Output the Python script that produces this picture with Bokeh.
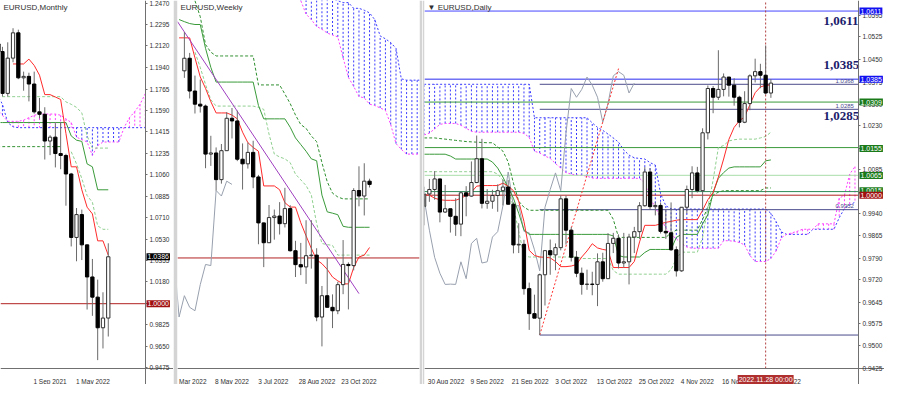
import numpy as np
from bokeh.plotting import figure
from bokeh.layouts import row
from bokeh.models import Range1d, FixedTicker, NumeralTickFormatter, Label
from bokeh.core.properties import value
from bokeh.embed import file_html
from bokeh.resources import INLINE

FONT = "Liberation Sans"

# ------------------------------------------------------------------ MONTHLY
# bar index: 0 = Mar 2021 ... 20 = Nov 2022
m_idx = list(range(-1, 21))
m_open = [1.2136, 1.2074, 1.1730, 1.2020, 1.2228, 1.1858, 1.1870, 1.1807, 1.1578, 1.1558, 1.1338,
          1.1370, 1.1235, 1.1219, 1.1067, 1.0545, 1.0733, 1.0484, 1.0220, 1.0054, 0.9802, 0.9882]
m_high = [1.2243, 1.2113, 1.2150, 1.2266, 1.2254, 1.1909, 1.1900, 1.1909, 1.1692, 1.1616, 1.1386,
          1.1483, 1.1495, 1.1233, 1.1076, 1.0787, 1.0774, 1.0486, 1.0368, 1.0198, 1.0094, 1.0497]
m_low = [1.1952, 1.1704, 1.1704, 1.1986, 1.1847, 1.1752, 1.1664, 1.1563, 1.1524, 1.1186, 1.1222,
         1.1121, 1.1106, 1.0806, 1.0471, 1.0349, 1.0359, 0.9952, 0.9900, 0.9536, 0.9632, 0.9730]
m_close = [1.2074, 1.1730, 1.2020, 1.2228, 1.1858, 1.1870, 1.1807, 1.1578, 1.1558, 1.1338, 1.1370,
           1.1235, 1.1219, 1.1067, 1.0545, 1.0733, 1.0484, 1.0220, 1.0054, 0.9802, 0.9882, 1.0386]
m_tenkan_idx = list(range(2, 21))
m_tenkan = [1.1972, 1.1972, 1.1972, 1.2012, 1.1960, 1.1880, 1.1720, 1.1720, 1.1700, 1.1680, 1.1400,
            1.1126, 1.1126, 1.0937, 1.0794, 1.0739, 1.0517, 1.0517, 1.0399]
m_kijun = [1.149] * 14 + [1.138, 1.1345, 1.1335, 1.115, 1.1126, 1.0937, 1.0937, 1.0937]
m_dash_dark_idx = list(range(-1, 12))
m_dash_dark = [1.1292] * 13
m_dash_pale1 = [1.1703] * 13 + [1.166, 1.164, 1.1615, 1.157, 1.138, 1.128, 1.128, 1.128, 1.128]
m_dash_pale2_idx = list(range(13, 21))
m_dash_pale2 = [1.125, 1.1150, 1.1030, 1.0890, 1.0834, 1.0640, 1.0612, 1.0612]
m_cloud_idx = list(range(-1, 28))
m_span_b = [1.172, 1.164, 1.149, 1.1455] + [1.1448] * 25
m_span_a = [1.160, 1.155, 1.150, 1.150, 1.150, 1.151, 1.153, 1.155, 1.156, 1.156, 1.156, 1.156, 1.155,
            1.152, 1.149, 1.137, 1.135, 1.133, 1.122, 1.130, 1.133, 1.133, 1.133, 1.133, 1.145, 1.153,
            1.158, 1.164, 1.1727]
m_yticks = [1.2470, 1.2295, 1.2120, 1.1940, 1.1765, 1.1590, 1.1415, 1.1235, 1.1060, 1.0885, 1.0710,
            1.0530, 1.0355, 1.0180, 1.0005, 0.9825, 0.9650, 0.9475]
m_xtick_pos = [9.0, 17.1]
m_xtick_lab = ["1 Sep 2021", "1 May 2022"]
m_last = 1.0386
m_level = 1.0000

# ------------------------------------------------------------------ WEEKLY
# bar index: 0 = week of 23 Oct 2022
w_idx = list(range(-30, 6))
w_open = [1.0982, 1.1048, 1.0876, 1.0807, 1.0797, 1.0545, 1.0551, 1.0411, 1.0563, 1.0733, 1.0719, 1.0518,
          1.0494, 1.0554, 1.0425, 1.0184, 1.0080, 1.0212, 1.0220, 1.0180, 1.0259, 1.0038, 0.9965, 0.9953,
          1.0012, 1.0015, 0.9690, 0.9802, 0.9741, 0.9723, 0.9860, 0.9966, 0.9960, 1.0354, 1.0325, 1.0403]
w_high = [1.1185, 1.1076, 1.0957, 1.0936, 1.0805, 1.0641, 1.0580, 1.0598, 1.0765, 1.0787, 1.0773, 1.0601,
          1.0606, 1.0615, 1.0436, 1.0186, 1.0278, 1.0254, 1.0293, 1.0368, 1.0277, 1.0090, 1.0079, 1.0198,
          1.0198, 1.0051, 0.9853, 0.9999, 0.9809, 0.9875, 1.0094, 0.9977, 1.0366, 1.0481, 1.0497, 1.0416]
w_low = [1.0945, 1.0837, 1.0758, 1.0763, 1.0471, 1.0483, 1.0354, 1.0390, 1.0563, 1.0627, 1.0508, 1.0359,
         1.0469, 1.0366, 1.0072, 0.9952, 1.0079, 1.0096, 1.0123, 1.0160, 1.0033, 0.9900, 0.9910, 0.9864,
         0.9944, 0.9668, 0.9536, 0.9740, 0.9632, 0.9705, 0.9810, 0.9730, 0.9935, 1.0271, 1.0223, 1.0370]
w_close = [1.1048, 1.0876, 1.0807, 1.0797, 1.0545, 1.0551, 1.0411, 1.0563, 1.0733, 1.0719, 1.0518, 1.0494,
           1.0554, 1.0425, 1.0184, 1.0080, 1.0212, 1.0220, 1.0180, 1.0259, 1.0038, 0.9965, 0.9953, 1.0012,
           1.0015, 0.9690, 0.9802, 0.9741, 0.9723, 0.9860, 0.9966, 0.9960, 1.0354, 1.0325, 1.0403, 1.0386]
w_line_idx = list(range(-31, 6))
w_tenkan = [1.1155, 1.1155, 1.1155, 1.105, 1.095, 1.089, 1.082, 1.0761, 1.0761, 1.0761, 1.075, 1.073,
            1.066, 1.0605, 1.058, 1.056, 1.0378, 1.0378, 1.0378, 1.0358, 1.029, 1.0267, 1.0267, 1.0185,
            1.0116, 1.005, 0.999, 0.997, 0.994, 0.990, 0.988, 0.9864, 0.9864, 0.995, 1.0005, 1.0015, 1.0055]
w_kijun = ([1.1251, 1.1240, 1.1230, 1.1225, 1.1225, 1.110, 1.100] + [1.0923] * 8 + [1.080] + [1.073] * 5 +
           [1.0686, 1.063, 1.0595, 1.056, 1.052, 1.051, 1.033, 1.0242, 1.0235, 1.0227, 1.0166] + [1.0161] * 5)
w_dash_idx = list(range(-28, 6))
w_dash_dark = ([1.135, 1.1266, 1.112, 1.108] + [1.106] * 8 + [1.0908] * 5 +
               [1.086, 1.081, 1.075, 1.070, 1.068, 1.064, 1.061, 1.050, 1.040, 1.034, 1.032] + [1.031] * 6)
w_dash_pale = ([1.108, 1.100, 1.091, 1.083] + [1.0797] * 8 + [1.079, 1.078, 1.065, 1.0545, 1.053, 1.052,
               1.050, 1.044, 1.041, 1.038, 1.033, 1.018, 1.0076, 1.0070, 1.0066, 1.0015] + [1.0015] * 6)
w_cloud_idx = list(range(-9, 16))
w_span_b = [1.150, 1.140, 1.138, 1.137, 1.136, 1.136, 1.136, 1.136, 1.135, 1.134, 1.134, 1.131, 1.131,
            1.130, 1.1286, 1.125, 1.1165, 1.115, 1.113, 1.110, 1.094, 1.0933, 1.0933, 1.0933, 1.0933]
w_span_a = [1.145, 1.135, 1.128, 1.125, 1.1215, 1.120, 1.118, 1.117, 1.116, 1.105, 1.0948, 1.0900, 1.0847,
            1.0840, 1.0807, 1.0800, 1.0787, 1.0775, 1.070, 1.060, 1.057, 1.0545, 1.0545, 1.0545, 1.0545]
w_trend_idx = [-31.3, 3.0]
w_trend = [1.124, 0.9813]
w_xtick_pos = [-28.4, -21.0, -13.2, -4.9, 3.0]
w_xtick_lab = ["Mar 2022", "8 May 2022", "3 Jul 2022", "28 Aug 2022", "23 Oct 2022"]
w_level = 1.0000

# ------------------------------------------------------------------ DAILY
# bar index: 0 = 30 Aug 2022 (trading days)
d_idx = list(range(-1, 66))
d_open = [0.9963, 1.0004, 1.0019, 1.0054, 0.9944, 0.9955, 0.9930, 0.9904, 1.0008, 0.9997, 1.0042, 1.0121,
          0.9973, 0.9980, 0.9999, 1.0015, 1.0027, 0.9970, 0.9835, 0.9837, 0.9690, 0.9607, 0.9592, 0.9736,
          0.9816, 0.9802, 0.9826, 0.9988, 0.9884, 0.9794, 0.9741, 0.9704, 0.9705, 0.9704, 0.9779, 0.9723,
          0.9840, 0.9857, 0.9775, 0.9779, 0.9861, 0.9879, 0.9965, 1.0077, 0.9962, 0.9966, 0.9880, 0.9875,
          0.9819, 0.9749, 0.9960, 1.0019, 1.0074, 1.0015, 1.0207, 1.0354, 1.0325, 1.0351, 1.0392, 1.0365,
          1.0325, 1.0242, 1.0304, 1.0396, 1.0410, 1.0398, 1.0339]
d_high = [1.0028, 1.0054, 1.0080, 1.0055, 1.0034, 0.9955, 0.9990, 1.0012, 1.0030, 1.0112, 1.0198, 1.0187,
          1.0020, 1.0018, 1.0036, 1.0051, 1.0050, 0.9976, 0.9907, 0.9852, 0.9710, 0.9670, 0.9740, 0.9815,
          0.9853, 0.9840, 0.9999, 0.9999, 0.9894, 0.9815, 0.9760, 0.9753, 0.9746, 0.9807, 0.9809, 0.9874,
          0.9875, 0.9870, 0.9875, 0.9872, 0.9895, 0.9977, 1.0093, 1.0090, 0.9977, 0.9976, 0.9954, 0.9976,
          0.9830, 0.9960, 1.0032, 1.0096, 1.0094, 1.0222, 1.0364, 1.0362, 1.0481, 1.0404, 1.0392, 1.0388,
          1.0330, 1.0345, 1.0401, 1.0453, 1.0436, 1.0497, 1.0385]
d_low = [0.9900, 0.9978, 0.9985, 0.9910, 0.9941, 0.9876, 0.9865, 0.9864, 0.9930, 0.9995, 1.0040, 0.9956,
         0.9955, 0.9955, 0.9945, 0.9966, 0.9970, 0.9807, 0.9808, 0.9670, 0.9553, 0.9593, 0.9536, 0.9634,
         0.9736, 0.9751, 0.9817, 0.9836, 0.9780, 0.9728, 0.9670, 0.9686, 0.9668, 0.9632, 0.9713, 0.9723,
         0.9808, 0.9757, 0.9760, 0.9704, 0.9808, 0.9855, 0.9962, 0.9952, 0.9933, 0.9873, 0.9855, 0.9815,
         0.9730, 0.9746, 0.9939, 0.9990, 1.0009, 0.9947, 1.0185, 1.0272, 1.0316, 1.0328, 1.0327, 1.0297,
         1.0225, 1.0239, 1.0282, 1.0374, 1.0355, 1.0334, 1.0323]
d_close = [1.0004, 1.0019, 1.0054, 0.9944, 0.9955, 0.9930, 0.9904, 1.0008, 0.9997, 1.0042, 1.0121, 0.9973,
           0.9980, 0.9999, 1.0015, 1.0027, 0.9970, 0.9835, 0.9837, 0.9690, 0.9607, 0.9592, 0.9736, 0.9816,
           0.9802, 0.9826, 0.9988, 0.9884, 0.9794, 0.9741, 0.9704, 0.9705, 0.9704, 0.9779, 0.9723, 0.9840,
           0.9857, 0.9775, 0.9779, 0.9861, 0.9879, 0.9965, 1.0077, 0.9962, 0.9966, 0.9880, 0.9875, 0.9819,
           0.9749, 0.9960, 1.0019, 1.0074, 1.0015, 1.0207, 1.0354, 1.0325, 1.0351, 1.0392, 1.0365, 1.0325,
           1.0242, 1.0304, 1.0396, 1.0410, 1.0398, 1.0339, 1.0372]
d_tenkan = [1.0002, 1.0000, 0.9990, 0.9985, 0.9983, 0.9983, 0.9983, 0.9990, 0.9999, 1.0010, 1.0030, 1.0032,
            1.0032, 1.0032, 1.0032, 1.0040, 1.0030, 1.0015, 0.9980, 0.9913, 0.9817, 0.9800, 0.9795, 0.9794,
            0.9792, 0.9780, 0.9763, 0.9763, 0.9765, 0.9770, 0.9795, 0.9815, 0.9839, 0.9825, 0.9820, 0.9817,
            0.9760, 0.9760, 0.9760, 0.9760, 0.9780, 0.9845, 0.9900, 0.9900, 0.9900, 0.9905, 0.9910, 0.9913,
            0.9917, 0.9919, 0.9919, 0.9919, 0.9919, 0.9950, 0.9985, 1.0009, 1.0060, 1.0120, 1.0185, 1.0225,
            1.0247, 1.0260, 1.0300, 1.0340, 1.0359, 1.0365, 1.0365]
d_kijun = ([1.0136] * 5 + [1.0130] + [1.0120] * 7 + [1.0110, 1.0090, 1.0060, 1.0025, 0.9990, 0.9940, 0.9885] +
           [0.9870] * 16 + [0.9865, 0.9800] + [0.9795] * 4 + [0.9810] + [0.9820] * 5 + [0.9860] +
           [0.9870] * 4 + [0.9905, 0.9935, 1.0008, 1.0056, 1.0075, 1.0090] + [1.0094] * 6 + [1.0114, 1.0117])
d_dash_dark = ([1.0190, 1.0190, 1.0190, 1.0188, 1.0186, 1.0184, 1.0182, 1.0180, 1.0178, 1.0177, 1.0176,
                1.0175, 1.0174, 1.0174] + [1.0160, 1.0146, 1.0110, 1.0040, 0.9980, 0.9960, 0.9950] +
               [0.9950] * 15 + [0.9920, 0.9860] + [0.9860] * 9 + [0.9875] + [0.9884] * 5 +
               [0.9920, 0.9960, 1.0000, 1.0010] + [1.0015] * 8 + [1.0024, 1.0024])
d_dash_pale = ([1.0078] * 14 + [1.0070, 1.0050, 1.0020, 0.9960, 0.9880, 0.9800] + [0.9795] * 10 +
               [0.9790] * 6 + [0.9750] + [0.9738] * 10 + [0.9753, 0.9790] + [0.9811] * 4 +
               [0.9860, 0.9960, 1.0050, 1.0158, 1.0165, 1.0180, 1.0184] + [1.0186] * 4 + [1.0190, 1.0195, 1.0209])
d_cloud_idx = list(range(-1, 82))
d_span_b = ([1.0368] * 21 + [1.0257] * 11 + [1.0240, 1.0225, 1.0215, 1.0203, 1.0190, 1.0176, 1.0150, 1.0133,
            1.0124, 1.0122, 1.0120, 1.0108, 1.0100, 1.0005, 0.9965, 0.9955] + [0.9954] * 18 +
            [0.9940, 0.9912, 0.9878] + [0.9870] * 5 + [0.9887] * 5 + [0.9925, 0.9956, 0.9967, 0.9977])
d_span_a = ([1.0200, 1.0206, 1.0220, 1.0235, 1.0238, 1.0238, 1.0238, 1.0232, 1.0222, 1.0212] + [1.0209] * 9 +
            [1.0205, 1.0192, 1.0146, 1.0140, 1.0130, 1.0122, 1.0105, 1.0090, 1.0075, 1.0070, 1.0067, 1.0066,
             1.0063, 1.0057] + [1.0056] * 9 + [1.0040, 0.9990, 0.9960, 0.9925, 0.9891, 0.9870, 0.9855, 0.9840,
            0.9828] + [0.9824] * 6 + [0.9849, 0.9849, 0.9847, 0.9843, 0.9835, 0.9800] + [0.9780] * 3 +
            [0.9790, 0.9815, 0.9859, 0.9870, 0.9875, 0.9880] + [0.9887] * 3 + [0.9905] * 4 +
            [0.9990, 1.0000, 1.0070, 1.0095])
d_trend_idx = [21, 36]
d_trend = [0.9536, 1.0420]
d_full_levels = [1.0611, 1.0385, 1.0309, 1.0158, 1.0066, 1.0012, 1.0000]
d_full_colors = ["#4646ff", "#2a2af0", "#3a9a3a", "#3a9a3a", "#a8dca8", "#2e8b57", "#b22222"]
d_navy_start = 21
d_navy_levels = [1.0368, 1.0285, 0.9952, 0.9536]
d_small_lab = ["1.0368", "1.0285", "0.9952"]
d_small_lab_y = [1.0372, 1.0289, 0.9956]
d_big_lab = ["1,0611", "1,0385", "1,0285"]
d_big_lab_y = [1.0579, 1.0432, 1.0264]
d_big_lab_x = 75.0
d_boxes = ["1.0611", "1.0385", "1.0309", "1.0015", "1.0155", "1.0065", "1.0000"]
d_boxes_y = [1.0611, 1.0385, 1.0309, 1.0015, 1.0155, 1.0065, 1.0000]
d_boxes_c = ["#1010f0", "#1010f0", "#1a7a1a", "#1a7a1a", "#1a7a1a", "#1a7a1a", "#a01010"]
d_cursor = 64
d_cursor_text = "2022.11.28 00:00"
d_yticks = [1.0595, 1.0525, 1.0450, 1.0375, 1.0300, 1.0230, 1.0155, 1.0085, 1.0010, 0.9940, 0.9865, 0.9790,
            0.9720, 0.9645, 0.9575, 0.9500, 0.9425]
d_xtick_pos = [3.2, 11.0, 19.2, 27.0, 35.2, 43.2, 51.0, 59.2, 67.2]
d_xtick_lab = ["30 Aug 2022", "9 Sep 2022", "21 Sep 2022", "3 Oct 2022", "13 Oct 2022", "25 Oct 2022",
               "4 Nov 2022", "16 Nov 2022", "28 Nov 2022"]
CHIKOU_SHIFT = 26

# ------------------------------------------------------------------ styling
RED = "#ff2a2a"
KIJUN = "#3a9a3a"
DDARK = "#2f8f2f"
DPALE = "#8fcf8f"
CHIK = "#98a0ae"
BLUE = "#3a3aff"
MAG = "#ff40ff"
LEVEL = "#b22222"
FH = 384          # frame height incl. the date strip
STRIP = 16        # date strip height in px
PLOT_H = FH - STRIP


def make_fig(fw, xr, yr, y_axis_at, left_border, right_border):
    """Frame covers the whole panel; axes are pinned inside it with fixed_location."""
    ppu = PLOT_H / (yr[1] - yr[0])
    y0 = yr[0] - STRIP / ppu
    p = figure(frame_width=fw, frame_height=FH, x_range=Range1d(*xr), y_range=Range1d(y0, yr[1]),
               output_backend="svg", toolbar_location=None,
               y_axis_location="right" if y_axis_at is not None else None,
               min_border_left=left_border, min_border_right=right_border,
               min_border_top=0, min_border_bottom=0)
    p.grid.grid_line_color = None
    p.background_fill_color = "white"
    p.border_fill_color = "#d4d4d4"
    p.outline_line_color = None
    p.xaxis[0].fixed_location = yr[0]
    if y_axis_at is not None:
        p.yaxis[0].fixed_location = y_axis_at
    return p


def style_x(p, pos, lab):
    ax = p.xaxis[0]
    ax.ticker = FixedTicker(ticks=pos)
    ax.major_label_overrides = dict(zip(pos, lab))
    ax.major_tick_line_color = None
    ax.minor_tick_line_color = None
    ax.axis_line_color = "#707070"
    ax.major_label_text_font_size = "6.5px"
    ax.major_label_text_font = FONT
    ax.major_label_text_color = "#303030"
    ax.major_label_standoff = 3


def style_y(p, ticks):
    ax = p.yaxis[0]
    ax.ticker = FixedTicker(ticks=ticks)
    ax.formatter = NumeralTickFormatter(format="0.0000")
    ax.minor_tick_line_color = None
    ax.major_tick_in = 0
    ax.major_tick_out = 2
    ax.major_tick_line_color = "#707070"
    ax.axis_line_color = "#707070"
    ax.major_label_text_font_size = "6.5px"
    ax.major_label_text_font = FONT
    ax.major_label_text_color = "#303030"
    ax.major_label_standoff = 2


def candles(p, x, o, h, l, c, w=0.62):
    x, o, h, l, c = map(np.asarray, (x, o, h, l, c))
    p.segment(x, h, x, l, line_color="#6a6a6a", line_width=1)
    up = c >= o
    p.vbar(x[up], w, o[up], c[up], fill_color="white", line_color="#303030", line_width=1)
    p.vbar(x[~up], w, o[~up], c[~up], fill_color="black", line_color="black", line_width=1)


def cloud(p, x, a, b):
    x, a, b = map(np.asarray, (x, a, b))
    bu = b >= a
    p.segment(x[bu], a[bu], x[bu], b[bu], line_color=BLUE, line_dash="2 2", line_width=1)
    p.segment(x[~bu], a[~bu], x[~bu], b[~bu], line_color=MAG, line_dash="2 2", line_width=1)
    p.line(x, b, line_color=BLUE, line_dash="2 2", line_width=1)
    p.line(x, a, line_color=MAG, line_dash="2 2", line_width=1)


def hlines(p, x0, x1, levels, colors):
    n = len(levels)
    p.segment([x0] * n, levels, [x1] * n, levels, line_color=colors, line_width=1)


def title(p, text):
    p.add_layout(Label(x=3, y=FH - 2, x_units="screen", y_units="screen", text=text,
                       text_font=FONT, text_font_size="8px", text_color="#303030", text_baseline="top"))


def box(p, xloc, y, text, color):
    p.add_layout(Label(x=xloc, y=y, x_offset=1, text=text,
                       text_font=FONT, text_font_size="7px", text_color="white", text_baseline="middle",
                       background_fill_color=color, padding=1))


# ------------------------------------------------------------------ monthly figure
M_XR = (-0.37, 27.04)
pm = make_fig(173, (M_XR[0], 32.33), (0.9467, 1.2494), M_XR[1], 0, 0)
cloud(pm, m_cloud_idx, m_span_a, m_span_b)
hlines(pm, M_XR[0], M_XR[1], [m_level], [LEVEL])
pm.line(m_dash_dark_idx, m_dash_dark, line_color=DDARK, line_dash="3 2")
pm.line(m_idx, m_dash_pale1, line_color=DPALE, line_dash="3 2")
pm.line(m_dash_pale2_idx, m_dash_pale2, line_color=DPALE, line_dash="3 2")
pm.line(m_idx, m_kijun, line_color=KIJUN, line_width=1)
pm.line(m_tenkan_idx, m_tenkan, line_color=RED, line_width=1)
candles(pm, m_idx, m_open, m_high, m_low, m_close)
style_x(pm, m_xtick_pos, m_xtick_lab)
style_y(pm, m_yticks)
title(pm, "EURUSD,Monthly")
box(pm, M_XR[1], m_last, "1.0386", "#000000")
box(pm, M_XR[1], m_level, "1.0000", "#a01010")

# ------------------------------------------------------------------ weekly figure
W_XR = (-31.3, 14.44)
pw = make_fig(242, W_XR, (0.9420, 1.1351), None, 4, 3)
cloud(pw, w_cloud_idx, w_span_a, w_span_b)
hlines(pw, W_XR[0], W_XR[1], [w_level], [LEVEL])
pw.line(np.array(w_idx) - CHIKOU_SHIFT, w_close, line_color=CHIK, line_width=1)
pw.line(w_dash_idx, w_dash_dark, line_color=DDARK, line_dash="3 2")
pw.line(w_dash_idx, w_dash_pale, line_color=DPALE, line_dash="3 2")
pw.line(w_line_idx, w_kijun, line_color=KIJUN, line_width=1)
pw.line(w_line_idx, w_tenkan, line_color=RED, line_width=1)
pw.line(w_trend_idx, w_trend, line_color="#a040c0", line_width=1)
candles(pw, w_idx, w_open, w_high, w_low, w_close)
style_x(pw, w_xtick_pos, w_xtick_lab)
title(pw, "EURUSD,Weekly")

# ------------------------------------------------------------------ daily figure
D_XR = (-0.93, 81.67)
pd = make_fig(460, (D_XR[0], 86.62), (0.9425, 1.0646), D_XR[1], 2, 0)
cloud(pd, d_cloud_idx, d_span_a, d_span_b)
hlines(pd, D_XR[0], D_XR[1], d_full_levels, d_full_colors)
hlines(pd, d_navy_start, D_XR[1], d_navy_levels, ["#4a4a8c"] * len(d_navy_levels))
pd.line(np.array(d_idx) - CHIKOU_SHIFT, d_close, line_color=CHIK, line_width=1)
pd.line(d_idx, d_dash_dark, line_color=DDARK, line_dash="3 2")
pd.line(d_idx, d_dash_pale, line_color=DPALE, line_dash="3 2")
pd.line(d_idx, d_kijun, line_color=KIJUN, line_width=1)
pd.line(d_idx, d_tenkan, line_color=RED, line_width=1)
pd.line(d_trend_idx, d_trend, line_color="#ff3030", line_dash="2 2", line_width=1)
pd.segment([d_cursor], [0.9425], [d_cursor], [1.0646], line_color="#b04040", line_dash="2 2", line_width=1)
candles(pd, d_idx, d_open, d_high, d_low, d_close)
pd.text([d_big_lab_x] * 3, d_big_lab_y, text=d_big_lab, text_font=value("Liberation Serif"),
        text_font_style="bold", text_font_size="13px", text_color="#1c1c6b", text_baseline="middle")
pd.text([80.8] * 3, d_small_lab_y, text=d_small_lab, text_font=value(FONT), text_font_size="6px",
        text_color="#4a4a8c", text_align="right", text_baseline="bottom")
style_x(pd, d_xtick_pos, d_xtick_lab)
style_y(pd, d_yticks)
title(pd, "\u25bc EURUSD,Daily")
for t, y, c in zip(d_boxes, d_boxes_y, d_boxes_c):
    box(pd, D_XR[1], y, t, c)
pd.add_layout(Label(x=d_cursor, y=0.9425, y_offset=-11, text=d_cursor_text,
                    text_font=FONT, text_font_size="7px", text_color="white", text_align="center",
                    text_baseline="middle", background_fill_color="#b03030", padding=1))

p = row(pm, pw, pd)
open("out.html", "w").write(file_html(p, INLINE))
